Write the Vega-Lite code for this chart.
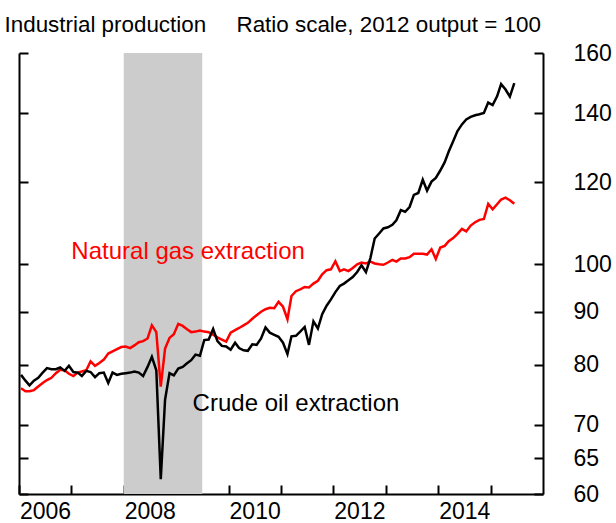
{
  "$schema": "https://vega.github.io/schema/vega-lite/v6.json",
  "width": 524,
  "height": 441,
  "autosize": "none",
  "padding": {"left": 19, "top": 53, "right": 73, "bottom": 29},
  "background": "white",
  "config": {
    "view": {"stroke": null},
    "font": "Liberation Sans",
    "axis": {
      "grid": false,
      "domainColor": "black",
      "domainWidth": 2,
      "tickColor": "black",
      "tickWidth": 2,
      "tickSize": -9,
      "labelFont": "Liberation Sans",
      "labelFontSize": 23,
      "labelColor": "black",
      "titleFont": "Liberation Sans",
      "titleFontWeight": "normal",
      "titleColor": "black",
      "titleFontSize": 22.4
    }
  },
  "datasets": {
    "recession": [{"start": "2008-01-01", "end": "2009-07-01"}],
    "labels": [
      {"d": "2007-01-01", "v": 102.8, "label": "Natural gas extraction"},
      {"d": "2009-04-25", "v": 73.3, "label": "Crude oil extraction"}
    ],
    "series": [
      {"d": "2006-01-15", "oil": 78.2, "gas": 75.9},
      {"d": "2006-02-15", "oil": 77.2, "gas": 75.4},
      {"d": "2006-03-15", "oil": 76.4, "gas": 75.4},
      {"d": "2006-04-15", "oil": 77.2, "gas": 75.6},
      {"d": "2006-05-15", "oil": 77.7, "gas": 76.2},
      {"d": "2006-06-15", "oil": 78.6, "gas": 76.8},
      {"d": "2006-07-15", "oil": 79.4, "gas": 77.3},
      {"d": "2006-08-15", "oil": 79.2, "gas": 77.7},
      {"d": "2006-09-15", "oil": 79.2, "gas": 78.5},
      {"d": "2006-10-15", "oil": 79.5, "gas": 79.1},
      {"d": "2006-11-15", "oil": 78.9, "gas": 79.0},
      {"d": "2006-12-15", "oil": 79.8, "gas": 78.4},
      {"d": "2007-01-15", "oil": 78.7, "gas": 78.0},
      {"d": "2007-02-15", "oil": 78.6, "gas": 78.6},
      {"d": "2007-03-15", "oil": 78.0, "gas": 78.8},
      {"d": "2007-04-15", "oil": 78.9, "gas": 79.0},
      {"d": "2007-05-15", "oil": 78.7, "gas": 80.6},
      {"d": "2007-06-15", "oil": 77.8, "gas": 79.8},
      {"d": "2007-07-15", "oil": 78.5, "gas": 80.3},
      {"d": "2007-08-15", "oil": 78.6, "gas": 80.9},
      {"d": "2007-09-15", "oil": 76.8, "gas": 82.0},
      {"d": "2007-10-15", "oil": 78.6, "gas": 82.4},
      {"d": "2007-11-15", "oil": 78.2, "gas": 82.8},
      {"d": "2007-12-15", "oil": 78.4, "gas": 83.2},
      {"d": "2008-01-15", "oil": 78.5, "gas": 83.3},
      {"d": "2008-02-15", "oil": 78.6, "gas": 83.0},
      {"d": "2008-03-15", "oil": 78.8, "gas": 83.5},
      {"d": "2008-04-15", "oil": 78.6, "gas": 84.1},
      {"d": "2008-05-15", "oil": 78.0, "gas": 84.3},
      {"d": "2008-06-15", "oil": 79.6, "gas": 84.8},
      {"d": "2008-07-15", "oil": 81.4, "gas": 87.3},
      {"d": "2008-08-15", "oil": 79.0, "gas": 86.0},
      {"d": "2008-09-15", "oil": 62.0, "gas": 76.2},
      {"d": "2008-10-15", "oil": 74.0, "gas": 82.9},
      {"d": "2008-11-15", "oil": 78.5, "gas": 84.9},
      {"d": "2008-12-15", "oil": 78.1, "gas": 85.6},
      {"d": "2009-01-15", "oil": 79.3, "gas": 87.6},
      {"d": "2009-02-15", "oil": 79.6, "gas": 87.2},
      {"d": "2009-03-15", "oil": 80.2, "gas": 86.6},
      {"d": "2009-04-15", "oil": 80.8, "gas": 86.0},
      {"d": "2009-05-15", "oil": 81.8, "gas": 86.1},
      {"d": "2009-06-15", "oil": 81.6, "gas": 86.3},
      {"d": "2009-07-15", "oil": 84.5, "gas": 86.1},
      {"d": "2009-08-15", "oil": 84.6, "gas": 86.0},
      {"d": "2009-09-15", "oil": 86.6, "gas": 85.5},
      {"d": "2009-10-15", "oil": 84.3, "gas": 85.0},
      {"d": "2009-11-15", "oil": 83.4, "gas": 84.6},
      {"d": "2009-12-15", "oil": 83.3, "gas": 84.2},
      {"d": "2010-01-15", "oil": 82.7, "gas": 85.9},
      {"d": "2010-02-15", "oil": 84.0, "gas": 86.4},
      {"d": "2010-03-15", "oil": 83.0, "gas": 86.8},
      {"d": "2010-04-15", "oil": 82.6, "gas": 87.3},
      {"d": "2010-05-15", "oil": 82.5, "gas": 87.8},
      {"d": "2010-06-15", "oil": 83.7, "gas": 88.6},
      {"d": "2010-07-15", "oil": 83.6, "gas": 89.3},
      {"d": "2010-08-15", "oil": 84.8, "gas": 90.0},
      {"d": "2010-09-15", "oil": 86.9, "gas": 90.5},
      {"d": "2010-10-15", "oil": 85.9, "gas": 90.8},
      {"d": "2010-11-15", "oil": 85.5, "gas": 90.7},
      {"d": "2010-12-15", "oil": 85.1, "gas": 92.0},
      {"d": "2011-01-15", "oil": 84.0, "gas": 91.0},
      {"d": "2011-02-15", "oil": 81.9, "gas": 88.5},
      {"d": "2011-03-15", "oil": 85.2, "gas": 93.2},
      {"d": "2011-04-15", "oil": 85.3, "gas": 94.2},
      {"d": "2011-05-15", "oil": 86.1, "gas": 94.6},
      {"d": "2011-06-15", "oil": 87.0, "gas": 95.1},
      {"d": "2011-07-15", "oil": 83.6, "gas": 95.0},
      {"d": "2011-08-15", "oil": 88.1, "gas": 95.8},
      {"d": "2011-09-15", "oil": 86.7, "gas": 96.4},
      {"d": "2011-10-15", "oil": 89.5, "gas": 97.8},
      {"d": "2011-11-15", "oil": 91.2, "gas": 98.7},
      {"d": "2011-12-15", "oil": 92.5, "gas": 98.9},
      {"d": "2012-01-15", "oil": 94.0, "gas": 100.7},
      {"d": "2012-02-15", "oil": 95.3, "gas": 98.5},
      {"d": "2012-03-15", "oil": 95.8, "gas": 98.9},
      {"d": "2012-04-15", "oil": 96.5, "gas": 98.5},
      {"d": "2012-05-15", "oil": 97.2, "gas": 99.2},
      {"d": "2012-06-15", "oil": 98.3, "gas": 100.0},
      {"d": "2012-07-15", "oil": 99.8, "gas": 100.4},
      {"d": "2012-08-15", "oil": 98.3, "gas": 100.2},
      {"d": "2012-09-15", "oil": 101.4, "gas": 100.6},
      {"d": "2012-10-15", "oil": 105.9, "gas": 100.2},
      {"d": "2012-11-15", "oil": 107.1, "gas": 100.0},
      {"d": "2012-12-15", "oil": 108.3, "gas": 99.9},
      {"d": "2013-01-15", "oil": 108.6, "gas": 100.4},
      {"d": "2013-02-15", "oil": 109.2, "gas": 101.0},
      {"d": "2013-03-15", "oil": 110.3, "gas": 100.6},
      {"d": "2013-04-15", "oil": 112.8, "gas": 101.3},
      {"d": "2013-05-15", "oil": 112.4, "gas": 101.3},
      {"d": "2013-06-15", "oil": 113.6, "gas": 101.6},
      {"d": "2013-07-15", "oil": 116.7, "gas": 102.4},
      {"d": "2013-08-15", "oil": 117.2, "gas": 102.4},
      {"d": "2013-09-15", "oil": 120.7, "gas": 102.4},
      {"d": "2013-10-15", "oil": 117.8, "gas": 102.2},
      {"d": "2013-11-15", "oil": 120.2, "gas": 103.4},
      {"d": "2013-12-15", "oil": 121.2, "gas": 101.2},
      {"d": "2014-01-15", "oil": 123.2, "gas": 103.8},
      {"d": "2014-02-15", "oil": 125.5, "gas": 104.2},
      {"d": "2014-03-15", "oil": 128.5, "gas": 105.3},
      {"d": "2014-04-15", "oil": 131.5, "gas": 106.0},
      {"d": "2014-05-15", "oil": 134.5, "gas": 107.0},
      {"d": "2014-06-15", "oil": 136.5, "gas": 108.2},
      {"d": "2014-07-15", "oil": 138.0, "gas": 107.6},
      {"d": "2014-08-15", "oil": 138.8, "gas": 109.0},
      {"d": "2014-09-15", "oil": 139.3, "gas": 109.8},
      {"d": "2014-10-15", "oil": 139.6, "gas": 110.4},
      {"d": "2014-11-15", "oil": 140.0, "gas": 110.6},
      {"d": "2014-12-15", "oil": 143.3, "gas": 114.4},
      {"d": "2015-01-15", "oil": 142.5, "gas": 113.0},
      {"d": "2015-02-15", "oil": 145.3, "gas": 114.3},
      {"d": "2015-03-15", "oil": 149.3, "gas": 115.5},
      {"d": "2015-04-15", "oil": 147.5, "gas": 116.0},
      {"d": "2015-05-15", "oil": 145.2, "gas": 115.3},
      {"d": "2015-06-15", "oil": 149.6, "gas": 114.4}
    ]
  },
  "resolve": {"axis": {"y": "independent"}},
  "layer": [
    {
      "data": {"name": "recession"},
      "mark": {"type": "rect", "color": "#cccccc"},
      "encoding": {
        "x": {
          "field": "start", "type": "temporal",
          "scale": {"type": "utc", "domain": [{"year": 2006, "month": 1, "date": 1, "utc": true}, {"year": 2016, "month": 1, "date": 1, "utc": true}]},
          "axis": {
            "orient": "bottom",
            "title": null,
            "values": [
              {"year": 2006, "month": 1, "date": 1, "utc": true},
              {"year": 2007, "month": 1, "date": 1, "utc": true},
              {"year": 2008, "month": 1, "date": 1, "utc": true},
              {"year": 2009, "month": 1, "date": 1, "utc": true},
              {"year": 2010, "month": 1, "date": 1, "utc": true},
              {"year": 2011, "month": 1, "date": 1, "utc": true},
              {"year": 2012, "month": 1, "date": 1, "utc": true},
              {"year": 2013, "month": 1, "date": 1, "utc": true},
              {"year": 2014, "month": 1, "date": 1, "utc": true},
              {"year": 2015, "month": 1, "date": 1, "utc": true}
            ],
            "labelExpr": "utcyear(datum.value) % 2 == 0 ? utcFormat(datum.value, '%Y') : ''",
            "labelOffset": 26,
            "labelPadding": 15,
            "labelFlush": false,
            "labelOverlap": false,
            "labelBound": false,
            "labelAlign": "center"
          }
        },
        "x2": {"field": "end"}
      }
    },
    {
      "data": {"name": "series"},
      "mark": {"type": "line", "color": "#ff0000", "strokeWidth": 2.5},
      "encoding": {
        "x": {"field": "d", "type": "temporal", "scale": {"type": "utc", "domain": [{"year": 2006, "month": 1, "date": 1, "utc": true}, {"year": 2016, "month": 1, "date": 1, "utc": true}]}},
        "y": {
          "field": "gas", "type": "quantitative",
          "scale": {"type": "log", "domain": [60, 160], "nice": false, "zero": false},
          "axis": {
            "orient": "left",
            "values": [60, 65, 70, 80, 90, 100, 120, 140, 160],
            "labels": false,
            "title": "Industrial production",
            "titleAngle": 0,
            "titleAlign": "left",
            "titleBaseline": "alphabetic",
            "titleX": -15,
            "titleY": -22
          }
        }
      }
    },
    {
      "data": {"name": "series"},
      "mark": {"type": "line", "color": "#000000", "strokeWidth": 2.5},
      "encoding": {
        "x": {"field": "d", "type": "temporal", "scale": {"type": "utc", "domain": [{"year": 2006, "month": 1, "date": 1, "utc": true}, {"year": 2016, "month": 1, "date": 1, "utc": true}]}},
        "y": {
          "field": "oil", "type": "quantitative",
          "scale": {"type": "log", "domain": [60, 160], "nice": false, "zero": false},
          "axis": {
            "orient": "right",
            "values": [60, 65, 70, 80, 90, 100, 120, 140, 160],
            "labelPadding": 39,
            "title": "Ratio scale, 2012 output = 100",
            "titleAngle": 0,
            "titleAlign": "left",
            "titleBaseline": "alphabetic",
            "titleX": -307,
            "titleY": -22
          }
        }
      }
    },
    {
      "data": {"name": "labels"},
      "mark": {"type": "text", "align": "left", "baseline": "middle", "fontSize": 24, "font": "Liberation Sans"},
      "encoding": {
        "x": {"field": "d", "type": "temporal", "scale": {"type": "utc", "domain": [{"year": 2006, "month": 1, "date": 1, "utc": true}, {"year": 2016, "month": 1, "date": 1, "utc": true}]}},
        "y": {"field": "v", "type": "quantitative", "scale": {"type": "log", "domain": [60, 160], "nice": false, "zero": false}, "axis": null},
        "text": {"field": "label"},
        "color": {"field": "label", "type": "nominal", "scale": {"domain": ["Natural gas extraction", "Crude oil extraction"], "range": ["#ff0000", "#000000"]}, "legend": null}
      }
    }
  ]
}
